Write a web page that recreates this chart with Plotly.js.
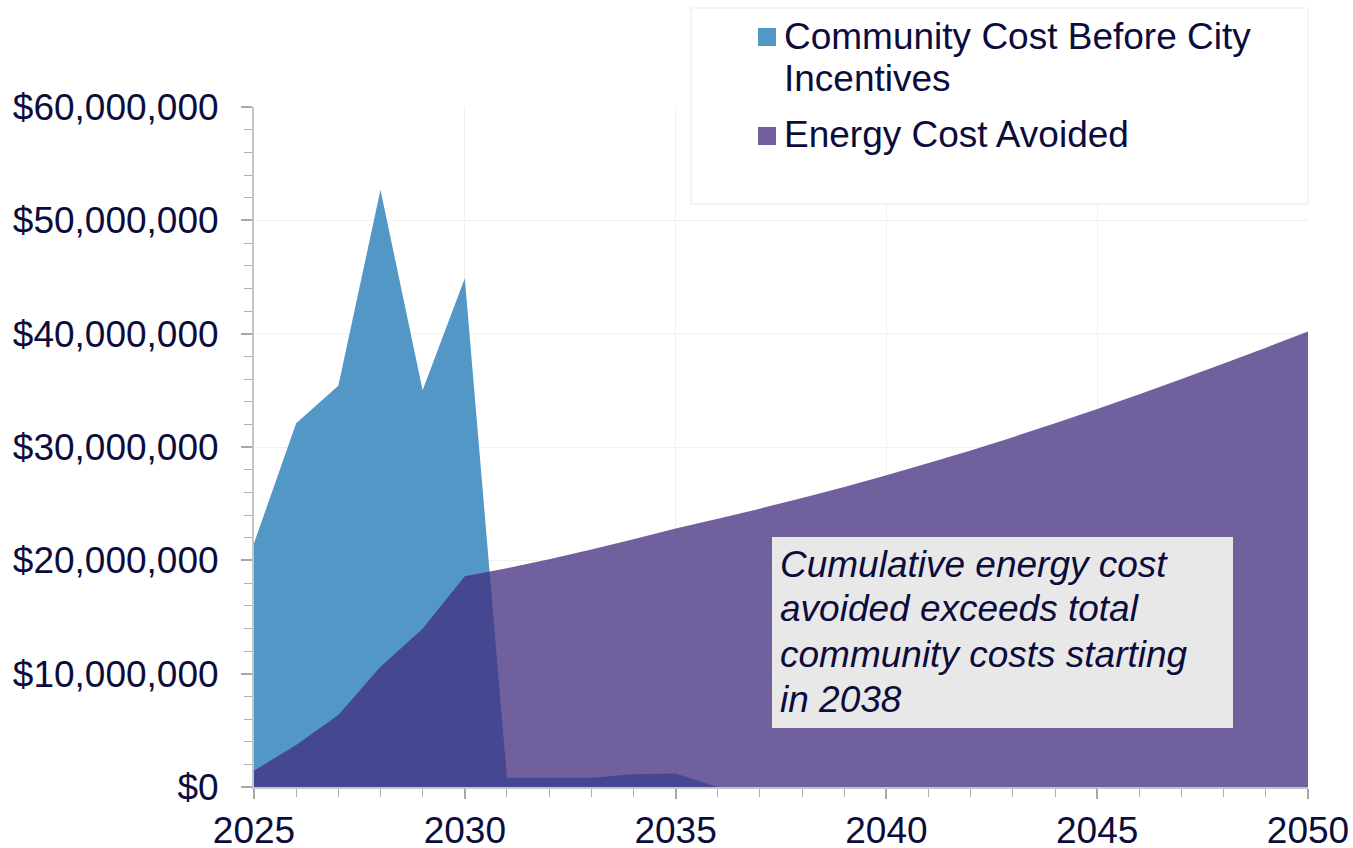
<!DOCTYPE html>
<html>
<head>
<meta charset="utf-8">
<script src="https://cdn.plot.ly/plotly-3.0.1.min.js"></script>
<style>
  html, body { margin: 0; padding: 0; background: #ffffff; }
  #chart { width: 1353px; height: 848px; }
</style>
</head>
<body>
<div id="chart"></div>
<script>
// ---- data ----
const years = [2025, 2026, 2027, 2028, 2029, 2030, 2031, 2032, 2033, 2034, 2035, 2036, 2037,
               2038, 2039, 2040, 2041, 2042, 2043, 2044, 2045, 2046, 2047, 2048, 2049, 2050];
const communityCost = [21500000, 32100000, 35400000, 52700000, 35000000, 44900000, 820000, 820000,
                       820000, 1120000, 1200000, 0, 0, 0, 0, 0, 0, 0, 0, 0, 0, 0, 0, 0, 0, 0];
const energyAvoided = [1440000, 3700000, 6350000, 10600000, 13970000, 18600000, 19300000, 20100000,
                       20950000, 21850000, 22800000, 23660000, 24560000, 25500000, 26480000, 27500000,
                       28580000, 29700000, 30870000, 32090000, 33350000, 34650000, 35990000, 37360000,
                       38760000, 40200000];
const seriesNames = ['Community Cost Before City', 'Incentives', 'Energy Cost Avoided'];
const noteLines = ['Cumulative energy cost', 'avoided exceeds total', 'community costs starting', 'in 2038'];
const yTickVals = [0, 10000000, 20000000, 30000000, 40000000, 50000000, 60000000];
const yTickText = ['$0', '$10,000,000', '$20,000,000', '$30,000,000', '$40,000,000', '$50,000,000', '$60,000,000'];
const xTickVals = [2025, 2030, 2035, 2040, 2045, 2050];
const xTickText = ['2025', '2030', '2035', '2040', '2045', '2050'];

// ---- layout helpers ----
const W = 1353, H = 848;
const M = {l: 254, r: 45, t: 107, b: 61};
const PW = W - M.l - M.r, PH = H - M.t - M.b;
const px = x => (x - M.l) / PW;
const py = y => (H - M.b - y) / PH;

const FONT = 'Liberation Sans, Arial, Helvetica, sans-serif';
const TXT = '#0c0c3c';
const FS = 37;
const BLUE = '#5397c7';
const PURPLE = 'rgba(64,44,126,0.75)';
const PURPLE_SOLID = '#70619e';

const traces = [
  {x: years, y: communityCost, type: 'scatter', mode: 'none', fill: 'tozeroy',
   fillcolor: BLUE, name: seriesNames[0] + ' ' + seriesNames[1], hoverinfo: 'skip'},
  {x: years, y: energyAvoided, type: 'scatter', mode: 'none', fill: 'tozeroy',
   fillcolor: PURPLE, name: seriesNames[2], hoverinfo: 'skip'}
];

const shapes = [
  // legend box
  {type: 'rect', xref: 'paper', yref: 'paper', x0: px(691), x1: px(1308), y0: py(204), y1: py(8),
   line: {color: '#ebebeb', width: 1}, fillcolor: '#ffffff', layer: 'above'},
  {type: 'rect', xref: 'paper', yref: 'paper', x0: px(758), x1: px(776), y0: py(46), y1: py(28),
   line: {width: 0}, fillcolor: BLUE, layer: 'above'},
  {type: 'rect', xref: 'paper', yref: 'paper', x0: px(758), x1: px(776), y0: py(145), y1: py(127),
   line: {width: 0}, fillcolor: PURPLE_SOLID, layer: 'above'},
  // note box
  {type: 'rect', xref: 'paper', yref: 'paper', x0: px(772), x1: px(1233), y0: py(728), y1: py(537),
   line: {width: 0}, fillcolor: '#e8e8e8', layer: 'above'}
];

const annotations = [];
const legendY = [37, 79, 135];
seriesNames.forEach((t, i) => annotations.push({
  xref: 'paper', yref: 'paper', x: px(782), y: py(legendY[i]), xanchor: 'left', yanchor: 'middle',
  text: t, showarrow: false, font: {family: FONT, size: FS, color: TXT}
}));
const noteY = [564, 608, 654, 699];
noteLines.forEach((t, i) => annotations.push({
  xref: 'paper', yref: 'paper', x: px(778), y: py(noteY[i]), xanchor: 'left', yanchor: 'middle',
  text: '<i>' + t + '</i>', showarrow: false, font: {family: FONT, size: FS, color: TXT}
}));

const layout = {
  width: W, height: H,
  margin: M,
  paper_bgcolor: '#ffffff', plot_bgcolor: '#ffffff',
  showlegend: false,
  hovermode: false,
  font: {family: FONT, size: FS, color: TXT},
  xaxis: {
    range: [2025, 2050], tickvals: xTickVals, ticktext: xTickText,
    showgrid: true, gridcolor: '#f1f1f1', gridwidth: 1,
    showline: true, linecolor: '#c4c4c4', linewidth: 2,
    ticks: 'outside', ticklen: 10, tickwidth: 2, tickcolor: '#a8a8a8',
    minor: {dtick: 1, tick0: 2025, ticks: 'outside', ticklen: 8, tickwidth: 1, tickcolor: '#b0b0b0', showgrid: false},
    tickfont: {family: FONT, size: FS, color: TXT},
    zeroline: false, fixedrange: true
  },
  yaxis: {
    range: [0, 60000000], tickvals: yTickVals, ticktext: yTickText,
    showgrid: true, gridcolor: '#f1f1f1', gridwidth: 1,
    showline: true, linecolor: '#c4c4c4', linewidth: 2,
    ticks: 'outside', ticklen: 11, tickwidth: 2, tickcolor: '#a8a8a8',
    minor: {dtick: 2000000, ticks: 'outside', ticklen: 8, tickwidth: 1, tickcolor: '#b0b0b0', showgrid: false},
    tickfont: {family: FONT, size: FS, color: TXT},
    ticklabelstandoff: 15,
    zeroline: false, fixedrange: true
  },
  shapes: shapes,
  annotations: annotations
};

Plotly.newPlot('chart', traces, layout, {displayModeBar: false, staticPlot: true});
</script>
</body>
</html>
